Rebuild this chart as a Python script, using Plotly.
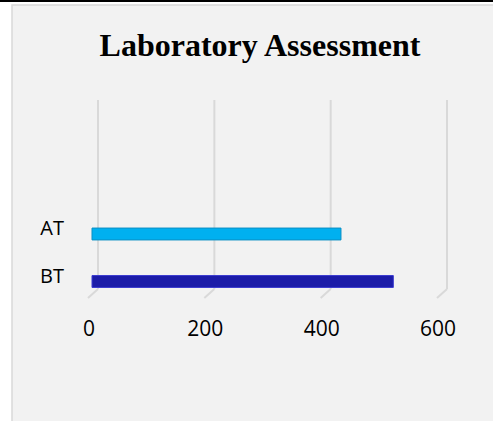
import plotly.graph_objects as go

# ---- data ----
categories = ["BT", "AT"]
values = [518, 428]
bar_colors = ["#1c1ca8", "#00b0f0"]
bar_edge = ["#3a3ad0", "#0b8fc4"]
tick_vals = [0, 200, 400, 600]
tick_text = ["0", "200", "400", "600"]
title_text = "Laboratory Assessment"

W, H = 493, 421
ML, MR, MT, MB = 70, 0, 90, 110
plot_w = W - ML - MR
plot_h = H - MT - MB
s = 0.5817                    # px per unit
x0px = 92                     # bar-plane zero (pixels)
xr0 = -(x0px - ML) / s
xr1 = xr0 + plot_w / s
cat_px = 47.5                 # px per category
yr0 = -((H - MB) - 281.5) / cat_px
yr1 = yr0 + plot_h / cat_px

fig = go.Figure()
fig.add_trace(go.Bar(
    y=categories, x=values, orientation="h",
    width=0.25,
    marker=dict(color=bar_colors, line=dict(color=bar_edge, width=1)),
    hoverinfo="skip",
))

bottom = H - MB
shapes = []
# chart area background
shapes.append(dict(type="rect", xref="paper", yref="paper",
                   xsizemode="pixel", ysizemode="pixel", xanchor=0, yanchor=0,
                   x0=12 - ML, x1=W - ML + 2, y0=bottom - H - 2, y1=bottom - 5,
                   fillcolor="#f2f2f2", line=dict(color="#d9d9d9", width=1.5), layer="below"))
# black top line
shapes.append(dict(type="rect", xref="paper", yref="paper",
                   xsizemode="pixel", ysizemode="pixel", xanchor=0, yanchor=0,
                   x0=-ML, x1=W - ML, y0=bottom - 2, y1=bottom + 1,
                   fillcolor="#000000", line=dict(width=0), layer="above"))
# pseudo-3D gridlines
for v in tick_vals:
    shapes.append(dict(type="line", xref="x", yref="paper",
                       xsizemode="pixel", ysizemode="pixel", xanchor=v, yanchor=0,
                       x0=6, x1=6, y0=bottom - 289, y1=bottom - 100,
                       line=dict(color="#d9d9d9", width=2), layer="below"))
    shapes.append(dict(type="line", xref="x", yref="paper",
                       xsizemode="pixel", ysizemode="pixel", xanchor=v, yanchor=0,
                       x0=6, x1=-4, y0=bottom - 289, y1=bottom - 298,
                       line=dict(color="#d9d9d9", width=2), layer="below"))

fig.update_layout(
    width=W, height=H,
    margin=dict(l=ML, r=MR, t=MT, b=MB, pad=0),
    paper_bgcolor="#ffffff",
    plot_bgcolor="rgba(0,0,0,0)",
    showlegend=False,
    bargap=0.75,
    title=dict(text="<b>" + title_text + "</b>", x=260 / W, xanchor="center",
               y=1 - 45 / H, yanchor="middle", xref="container", yref="container",
               font=dict(family="Liberation Serif", size=32, color="#000000")),
    xaxis=dict(range=[xr0, xr1], tickvals=tick_vals, ticktext=tick_text,
               showgrid=False, zeroline=False, showline=False, ticks="",
               ticklabelshift=-3, ticklabelstandoff=3,
               tickfont=dict(family="Open Sans", size=21, color="#000000"),
               fixedrange=True),
    yaxis=dict(range=[yr0, yr1], type="category", categoryorder="array",
               categoryarray=categories,
               showgrid=False, zeroline=False, showline=False, ticks="",
               ticklabelshift=-6, ticklabelstandoff=5,
               tickfont=dict(family="Open Sans", size=20, color="#000000"),
               fixedrange=True),
    shapes=shapes,
)

fig.write_html("out.html", config={"displayModeBar": False},
               post_script="document.body.style.margin='0';document.body.style.padding='0';")
